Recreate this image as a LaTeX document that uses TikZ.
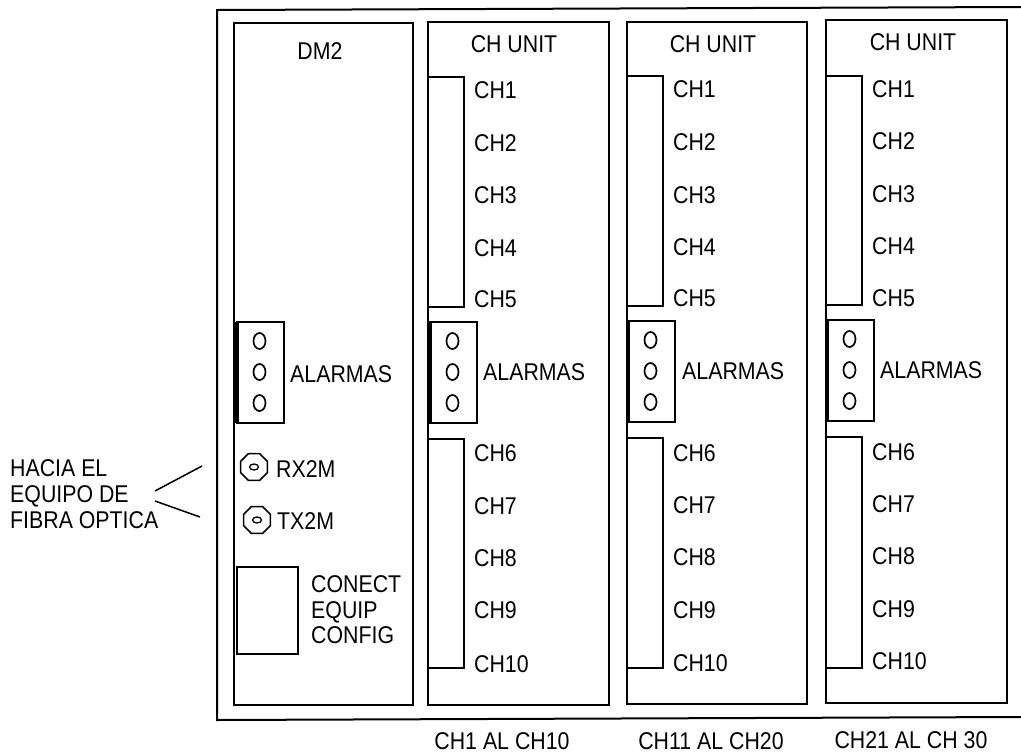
\documentclass[tikz,border=0pt]{standalone}
\usepackage{fontspec}
\setmainfont{Liberation Sans}
\usetikzlibrary{shapes.geometric}
\tikzset{x=1pt,y=-1pt,
 frameline/.style={draw=black,line width=2pt,line join=miter},
 box/.style={draw=black,line width=2pt,line join=miter,line cap=butt},
 lbl/.style={font=\fontsize{20.7}{21}\selectfont,anchor=base west,inner sep=0pt,text=black,xscale=1.03,yscale=1.17,transform shape},
 clbl/.style={font=\fontsize{20.7}{21}\selectfont,anchor=base,inner sep=0pt,text=black,xscale=1.03,yscale=1.17,transform shape},
 hole/.style={draw=black,line width=1.7pt,ellipse,minimum width=12pt,minimum height=16pt,inner sep=0pt},
 lead/.style={draw=black,line width=1.5pt},
 oct/.style={draw=black,line width=1.6pt,regular polygon,regular polygon sides=8,minimum size=29pt,inner sep=0pt},
 eye/.style={draw=black,line width=1.3pt,ellipse,minimum width=9pt,minimum height=6pt,inner sep=0pt}}
% left, right, top, bottom, name
\newcommand{\rectbox}[5]{\draw[box] (#1,#3) rectangle (#2,#4); \coordinate (#5) at (#1,#3);}
% left, top, right, bottom, text x, text base, name
\newcommand{\alarm}[7]{%
 \draw[box] (#1,#2) rectangle (#3,#4);
 \draw[draw=black,line width=3.2pt] (#1,#2) -- (#1,#4);
 \node[hole] (#7a) at ({(#1+#3)/2-1},#2+19) {};
 \node[hole] (#7b) at ({(#1+#3)/2-1},#2+50) {};
 \node[hole] (#7c) at ({(#1+#3)/2-1},#2+81) {};
 \node[lbl] (#7t) at (#5,#6) {ALARMAS};
}
% name, left, right, top, bottom, inner right, inner top, upper end
\newcommand{\unit}[8]{%
 \rectbox{#2}{#3}{#4}{#5}{#1o}
 \draw[box] (#2,#7) -- (#6,#7) -- (#6,#8) -- (#2,#8);
}
% name, lower top, lower end, inner right, left
\newcommand{\lowerbay}[5]{\draw[box] (#5,#2) -- (#4,#2) -- (#4,#3) -- (#5,#3);}
\begin{document}
\begin{tikzpicture}
\useasboundingbox (0,0) rectangle (1021,753);
\fill[white] (0,0) rectangle (1021,753);
% outer frame
\coordinate (ftr) at (1021,7); \coordinate (ftl) at (217,10);
\coordinate (fbl) at (217,720); \coordinate (fbr) at (1021,717);
\draw[frameline] (ftr) -- (ftl) -- (fbl) -- (fbr);
% DM2
\rectbox{234}{413}{23}{705}{dm}
\node[clbl] (dmt) at (320,59) {DM2};
\alarm{237}{322}{284}{423}{290}{382}{aa}
\node[oct] (rx) at (254,467) {};
\node[eye] (rxi) at (254,467) {};
\node[lbl] (rxt) at (276,477) {RX2M};
\node[oct] (tx) at (257,520) {};
\node[eye] (txi) at (257,520) {};
\node[lbl] (txt) at (277,529) {TX2M};
\draw[box] (237,567) rectangle (298,654);
\node[lbl] (c1) at (311,592) {CONECT};
\node[lbl] (c2) at (311,618) {EQUIP};
\node[lbl] (c3) at (311,643) {CONFIG};
\node[lbl] (h1) at (10,476) {HACIA EL};
\node[lbl] (h2) at (10,502) {EQUIPO DE};
\node[lbl] (h3) at (10,528) {FIBRA OPTICA};
\coordinate (l0a) at (155,491); \coordinate (l0b) at (155,501);
\coordinate (l1) at (202,466); \coordinate (l2) at (200,517);
\draw[lead] (l0a) -- (l1);
\draw[lead] (l0b) -- (l2);
% unit 1
\unit{ua}{428}{609}{22}{705}{464}{77}{307}
\lowerbay{ua}{439}{668}{464}{428}
\node[clbl] (uat) at (514,52) {CH UNIT};
\alarm{430}{322}{477}{423}{483}{380}{ab}
\foreach \n/\b in {1/98,2/151,3/203,4/256,5/307,6/461,7/514,8/566,9/618,10/672}
  \node[lbl] (uac\n) at (474,\b) {CH\n};
% unit 2
\unit{ub}{627}{807}{22}{704}{663}{76}{306}
\lowerbay{ub}{438}{668}{663}{627}
\node[clbl] (ubt) at (713,52) {CH UNIT};
\alarm{628}{321}{675}{422}{682}{379}{ac}
\foreach \n/\b in {1/97,2/150,3/203,4/255,5/306,6/461,7/513,8/565,9/618,10/671}
  \node[lbl] (ubc\n) at (673,\b) {CH\n};
% unit 3
\unit{uc}{826}{1007}{20}{703}{862}{76}{305}
\lowerbay{uc}{437}{668}{862}{826}
\node[clbl] (uct) at (913,50) {CH UNIT};
\alarm{827}{320}{874}{421}{880}{378}{ad}
\foreach \n/\b in {1/97,2/149,3/202,4/254,5/306,6/460,7/512,8/564,9/617,10/669}
  \node[lbl] (ucc\n) at (872,\b) {CH\n};
% captions
\node[clbl] (b1) at (502,749) {CH1 AL CH10};
\node[clbl] (b2) at (711,749) {CH11 AL CH20};
\node[clbl] (b3) at (911,748) {CH21 AL CH 30};
\end{tikzpicture}
\end{document}
